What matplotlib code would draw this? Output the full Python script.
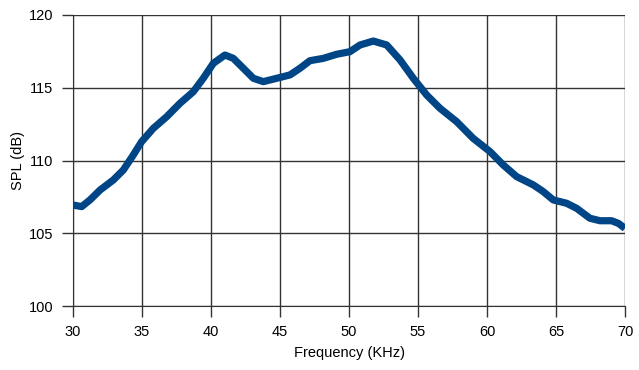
import matplotlib
matplotlib.use("Agg")
import matplotlib.pyplot as plt

# Frequency response
freq_khz = [30.0, 30.63, 31.23, 31.96, 32.92, 33.65, 34.37, 34.97, 35.82, 36.79,
            37.75, 38.72, 39.44, 40.17, 41.01, 41.62, 42.34, 43.07, 43.79, 44.76,
            45.72, 46.45, 47.17, 48.14, 49.1, 50.07, 50.8, 51.76, 52.73, 53.7,
            54.66, 55.63, 56.59, 57.8, 59.0, 60.22, 61.18, 62.15, 63.36, 64.08,
            64.8, 65.77, 66.5, 67.46, 68.19, 69.03, 69.52, 70.0]
spl_db = [106.94, 106.83, 107.29, 107.97, 108.66, 109.35, 110.38, 111.29, 112.21, 113.01,
          113.93, 114.73, 115.65, 116.68, 117.25, 117.02, 116.34, 115.65, 115.42, 115.65,
          115.88, 116.34, 116.86, 117.02, 117.30, 117.48, 117.94, 118.21, 117.94, 116.91,
          115.65, 114.50, 113.59, 112.67, 111.52, 110.61, 109.69, 108.89, 108.32, 107.86,
          107.29, 107.06, 106.71, 106.03, 105.86, 105.86, 105.68, 105.34]

x_ticks = [30, 35, 40, 45, 50, 55, 60, 65, 70]
y_ticks = [100, 105, 110, 115, 120]

plt.rcParams["font.family"] = ["Liberation Sans", "DejaVu Sans"]

fig = plt.figure(figsize=(6.39, 3.70), dpi=100)
ax = fig.add_axes([73 / 639, 1 - 306 / 370, (625 - 73) / 639, (306 - 15) / 370])

ax.plot(freq_khz, spl_db, color="#004586", linewidth=5.2,
        solid_joinstyle="round", solid_capstyle="butt", zorder=3)

ax.set_xlim(30, 70)
ax.set_ylim(100, 120)
ax.set_xticks(x_ticks)
ax.set_yticks(y_ticks)
ax.grid(True, color="#333333", linewidth=1)
ax.set_axisbelow(True)
for side in ["top", "right"]:
    ax.spines[side].set_visible(False)
for side in ["left", "bottom"]:
    ax.spines[side].set_color("#333333")
ax.tick_params(axis="both", colors="#333333", labelcolor="black", labelsize=10.5,
               length=8, width=1, direction="out")
ax.tick_params(axis="y", pad=6)
ax.tick_params(axis="x", pad=6)

ax.set_xlabel("Frequency (KHz)", fontsize=10.5, labelpad=5)
ax.set_ylabel("SPL (dB)", fontsize=10.5, labelpad=3)

fig.savefig("out.png", dpi=100)
